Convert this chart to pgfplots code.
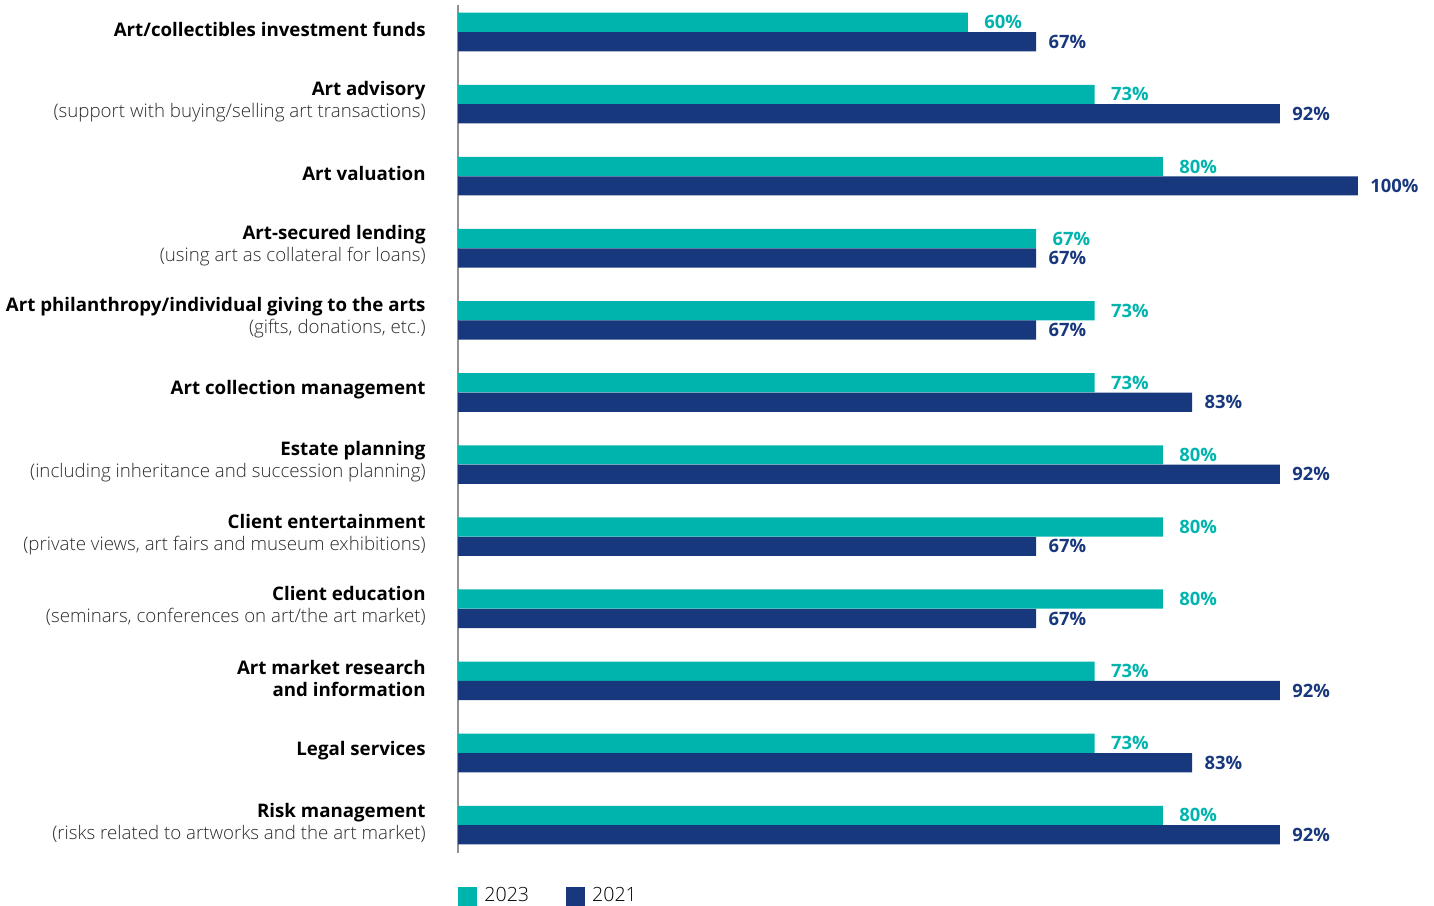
\documentclass[border=0pt]{standalone}
\usepackage{pgfplots}
\pgfplotsset{compat=1.18}
\usepackage{fontspec}
\setmainfont{Open Sans}
\newfontfamily\lightfont{Open Sans Light}
\definecolor{tealc}{RGB}{0,180,174}
\definecolor{bluec}{RGB}{24,56,125}
\definecolor{subgray}{RGB}{45,45,45}
\definecolor{axgray}{RGB}{145,145,145}
\newcommand\cat[2]{\textbf{#1}\\{\lightfont\color{subgray}#2}}
\begin{document}
\begin{tikzpicture}
\useasboundingbox (0,0) rectangle (717pt,452.5pt);
\begin{axis}[
  at={(229pt,26pt)}, anchor=south west,
  scale only axis, width=488pt, height=424pt,
  xmin=7.69, xmax=107.8,
  ymin=-0.387, ymax=11.374,
  xbar, bar width=9.6pt,
  hide x axis,
  axis y line*=left,
  y axis line style={draw=axgray, line width=0.6pt},
  major tick length=0pt,
  ytick={0,...,11},
  yticklabels={
    {\cat{Risk management}{(risks related to artworks and the art market)}},
    {\textbf{Legal services}},
    {\textbf{Art market research}\\\textbf{and information}},
    {\cat{Client education}{(seminars, conferences on art/the art market)}},
    {\cat{Client entertainment}{(private views, art fairs and museum exhibitions)}},
    {\cat{Estate planning}{(including inheritance and succession planning)}},
    {\textbf{Art collection management}},
    {\cat{Art philanthropy/individual giving to the arts}{(gifts, donations, etc.)}},
    {\cat{Art-secured lending}{(using art as collateral for loans)}},
    {\textbf{Art valuation}},
    {\cat{Art advisory}{(support with buying/selling art transactions)}},
    {\textbf{Art/collectibles investment funds}}
  },
  yticklabel style={align=right, inner sep=0pt, xshift=-16pt, yshift=1.25pt,
    font=\fontsize{9.35}{11}\selectfont},
  nodes near coords={\pgfmathprintnumber[fixed,precision=0,assume math mode=true]{\pgfplotspointmeta}\%},
  point meta=x,
  every node near coord/.append style={anchor=west, inner sep=0pt,
    font=\fontsize{9.2}{11}\selectfont\bfseries},
  legend style={at={(0,-0.0507)}, anchor=west, draw=none, inner sep=0pt,
    font=\fontsize{9.8}{11}\selectfont\lightfont, legend columns=2,
    /tikz/every even column/.append style={column sep=18.5pt},
    nodes={inner sep=0pt}},
  legend image code/.code={\fill[#1] (0pt,-4.75pt) rectangle (9.5pt,4.75pt);},
  legend cell align=left,
]
\addplot[fill=tealc, draw=none, bar shift=4.85pt,
  every node near coord/.append style={text=tealc, xshift=8pt}]
  coordinates {(60,11) (73,10) (80,9) (67,8) (73,7) (73,6) (80,5) (80,4) (80,3) (73,2) (73,1) (80,0)};
\addplot[fill=bluec, draw=none, bar shift=-4.85pt,
  every node near coord/.append style={text=bluec, xshift=6pt}]
  coordinates {(67,11) (92,10) (100,9) (67,8) (67,7) (83,6) (92,5) (67,4) (67,3) (92,2) (83,1) (92,0)};
\legend{\hspace{3.5pt}2023,\hspace{3.5pt}2021}
\end{axis}
\end{tikzpicture}
\end{document}
